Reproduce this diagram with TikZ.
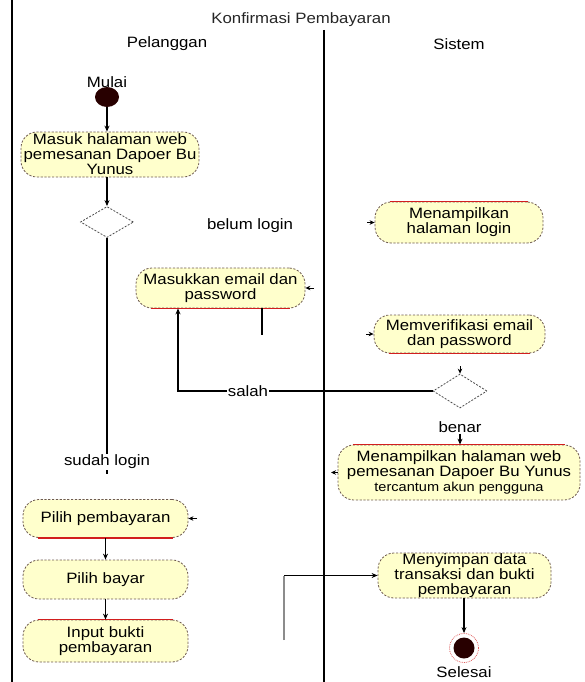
\documentclass[tikz,border=0pt]{standalone}
\usepackage{fontspec}
\setmainfont{Liberation Sans}[FakeStretch=1.12]
\usetikzlibrary{arrows.meta,shapes.geometric}
\definecolor{actfill}{RGB}{255,255,204}
\definecolor{actedge}{RGB}{110,90,80}
\definecolor{actred}{RGB}{210,30,30}
\definecolor{dotfill}{RGB}{40,0,0}

\begin{document}
\begin{tikzpicture}[x=1pt,y=-1pt,
  txt/.style={font=\fontsize{15}{15}\selectfont, inner sep=1pt, text=black},
  act/.style={txt, draw=actedge, fill=actfill, dash pattern=on 2.2pt off 1.6pt,
    line width=0.8pt, rounded corners=16pt, align=center,
    inner xsep=2pt, inner ysep=0pt},
  dec/.style={diamond, draw=black!70, dash pattern=on 2pt off 1.5pt,
    line width=0.8pt, fill=white, inner sep=0pt},
  flow/.style={line width=1.2pt, -{Stealth[length=6pt,width=5pt]}},
  plain/.style={line width=1.2pt},
  redline/.style={actred, line width=1.4pt},
  tip/.style={-{Stealth[length=5pt,width=4.5pt]}, line width=0.8pt},
  lane/.style={line width=1.6pt},
]
\useasboundingbox (0,0) rectangle (584,682);

% swimlane borders
\draw[lane] (12,0) -- (12,682);
\draw[lane] (324,30) -- (324,682);

% headings
\node[txt, text=black!85] (title) at (301,20) {Konfirmasi Pembayaran};
\node[txt] (lane1) at (167,44) {Pelanggan};
\node[txt] (lane2) at (459,44) {Sistem};

% start
\node[txt] (mulai) at (107,82) {Mulai};
\node[ellipse, fill=dotfill, minimum width=24pt, minimum height=20pt, inner sep=0pt] (start) at (107,97) {};

% activities of the customer lane
\node[act, minimum width=178pt, minimum height=45pt] (masuk) at (110,154.5)
  {Masuk halaman web\\pemesanan Dapoer Bu\\Yunus};
\node[dec, minimum width=53pt, minimum height=31pt] (d1) at (107,222) {};
\node[act, minimum width=169pt, minimum height=40pt] (masukkan) at (220.5,288)
  {Masukkan email dan\\password};
\node[act, minimum width=165pt, minimum height=38pt] (pilihp) at (105.5,518.5)
  {Pilih pembayaran};
\node[act, minimum width=165pt, minimum height=39pt] (bayar) at (105.5,579.5)
  {Pilih bayar};
\node[act, minimum width=165pt, minimum height=42pt] (input) at (105.5,641)
  {Input bukti\\pembayaran};

% activities of the system lane
\node[act, minimum width=168pt, minimum height=41pt] (login) at (459,222.5)
  {Menampilkan\\halaman login};
\node[act, minimum width=171pt, minimum height=38pt] (verif) at (459.5,334)
  {Memverifikasi email\\dan password};
\node[dec, minimum width=54pt, minimum height=34pt] (d2) at (460,391) {};
\node[act, minimum width=242pt, minimum height=55pt] (web) at (459,472.5)
  {Menampilkan halaman web\\pemesanan Dapoer Bu Yunus\\{\fontsize{13}{15}\selectfont tercantum akun pengguna}};
\node[act, minimum width=173pt, minimum height=45pt] (simpan) at (464.5,575.5)
  {Menyimpan data\\transaksi dan bukti\\pembayaran};

% end
\node[circle, fill=dotfill, minimum size=21pt, inner sep=0pt] (end) at (464,648) {};
\node[circle, draw=actred!70, densely dotted, line width=0.8pt, minimum size=29pt, inner sep=0pt] (endring) at (464,648) {};
\node[txt] (selesai) at (464,672) {Selesai};

% red edges of the activities
\draw[redline] ([xshift=15pt]masukkan.south west) -- ([xshift=-15pt]masukkan.south east);
\draw[redline] ([xshift=15pt]login.north west) -- ([xshift=-15pt]login.north east);
\draw[redline] ([xshift=15pt]verif.south west) -- ([xshift=-15pt]verif.south east);
\draw[redline] ([xshift=15pt]web.north west) -- ([xshift=-15pt]web.north east);
\draw[redline] ([xshift=15pt]pilihp.south west) -- ([xshift=-15pt]pilihp.south east);
\draw[redline] ([xshift=15pt]input.north west) -- ([xshift=-15pt]input.north east);

% flows
\draw[flow] (start) -- (start |- masuk.north);
\draw[flow] (d1 |- masuk.south) -- (d1.north);
\coordinate (sudahend) at (107,474);
\draw[plain] (d1.south) -- (sudahend);
\node[txt, fill=white] (sudah) at (107,462) {sudah login};
\node[txt] (belum) at (250,226) {belum login};

\coordinate (stubend) at (262,335);
\draw[plain] (stubend |- masukkan.south) -- (stubend);

\coordinate (back) at (178,391);
\draw[flow] (d2.west) -- (back) -- (back |- masukkan.south);
\node[txt, fill=white] (salah) at (248,391) {salah};

\node[txt] (benar) at (460,427) {benar};
\draw[flow] (benar.south) -- (benar.south |- web.north);

\draw[flow] (pilihp) -- (bayar);
\draw[flow] (bayar) -- (input);

\coordinate (feed) at (284,640);
\draw[plain, black!45] (feed) -- (feed |- simpan.west);
\draw[flow] (feed |- simpan.west) -- (simpan.west);

\draw[flow] (end |- simpan.south) -- (endring.north);

% short arrow tips beside activities
\coordinate (mk1) at (314,288);
\draw[tip] (mk1) -- (masukkan.east);
\coordinate (mk2) at (367,222.5);
\draw[tip] (mk2) -- (login.west);
\coordinate (mk3) at (366,334);
\draw[tip] (mk3) -- (verif.west);
\coordinate (mk4) at (331,472.5);
\draw[tip] (web.west) -- (mk4);
\coordinate (mk5) at (197,518.5);
\draw[tip] (mk5) -- (pilihp.east);
\coordinate (mk6) at (460,366);
\draw[tip] (mk6) -- (d2.north);
\end{tikzpicture}
\end{document}
